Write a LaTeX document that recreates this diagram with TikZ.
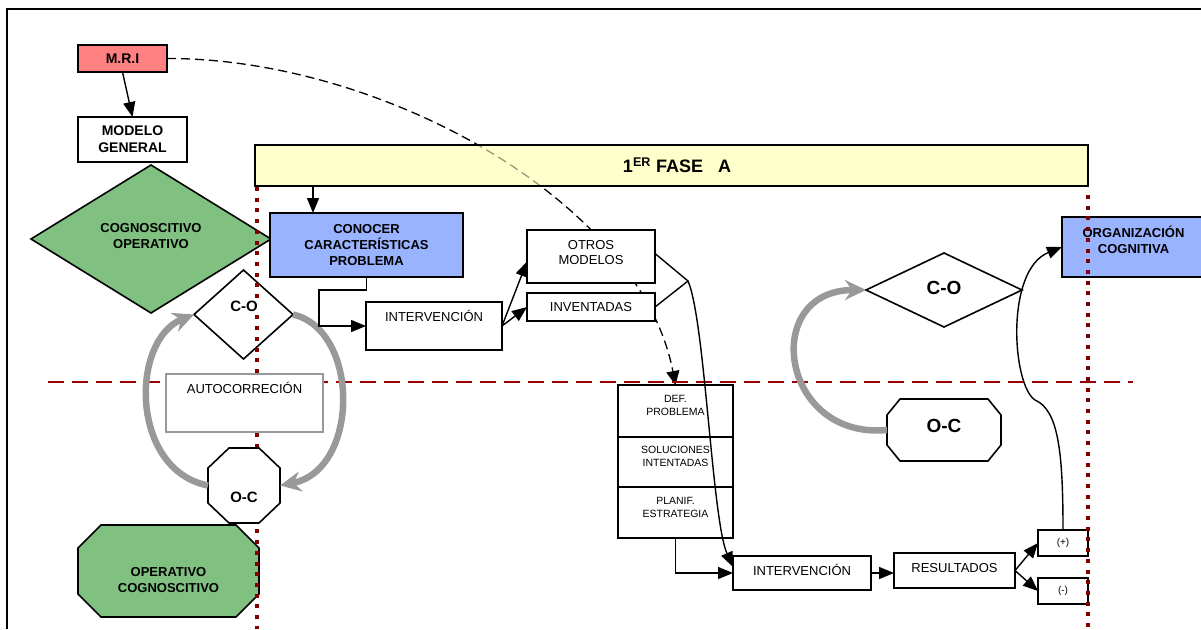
\documentclass[tikz,border=0pt]{standalone}
\usepackage{fontspec}
\setmainfont{Liberation Sans}
\usetikzlibrary{arrows.meta,calc}

\definecolor{mrired}{HTML}{FF8080}
\definecolor{leafgreen}{HTML}{80C080}
\definecolor{skyblue}{HTML}{99B3FF}
\definecolor{paleyellow}{HTML}{FFFFCC}
\definecolor{maroon}{HTML}{800000}
\definecolor{dashred}{HTML}{990000}
\definecolor{loopgray}{HTML}{999999}

% octagon drawn inside the rectangle of a (frameless) node
\newcommand{\octashape}[4]{%
  \path[#4] ($(#1.north west)+(#2,0)$) -- ($(#1.north east)+(-#2,0)$)
    -- ($(#1.north east)+(0,#3)$) -- ($(#1.south east)+(0,-#3)$)
    -- ($(#1.south east)+(-#2,0)$) -- ($(#1.south west)+(#2,0)$)
    -- ($(#1.south west)+(0,-#3)$) -- ($(#1.north west)+(0,#3)$) -- cycle;}
% rhombus through the four side anchors of a node
\newcommand{\rhombusshape}[2]{%
  \path[#2] (#1.west) -- (#1.north) -- (#1.east) -- (#1.south) -- cycle;}

\tikzset{
  sz/.style 2 args={minimum width=#1pt, minimum height=#2pt},
  box/.style={draw=black, line width=1.6pt, fill=white, inner sep=0pt, outer sep=0pt},
  ghost/.style={inner sep=0pt, outer sep=0pt},
  outline/.style={draw=black, line width=1.6pt},
  conn/.style={line width=1.4pt, -{Triangle[length=15pt,width=12pt]}},
  plainline/.style={line width=1.4pt},
  loopline/.style={draw=loopgray, line width=6.5pt, -{Stealth[length=21pt,width=20pt,inset=7pt]}},
  dotline/.style={draw=maroon, line width=4pt, dash pattern=on 4pt off 6.7pt},
  dashline/.style={draw=dashred, line width=2pt, dash pattern=on 16pt off 8pt},
  tb14/.style={font=\fontsize{14}{17}\selectfont\bfseries, align=center, inner sep=0pt},
  tb13/.style={font=\fontsize{13}{16}\selectfont\bfseries, align=center, inner sep=0pt},
  tr13/.style={font=\fontsize{13}{15}\selectfont, align=center, inner sep=0pt},
  tr10/.style={font=\fontsize{10.5}{13}\selectfont, align=center, inner sep=0pt},
  tr9/.style={font=\fontsize{10}{12}\selectfont, align=center, inner sep=0pt},
  tb15/.style={font=\fontsize{15}{18}\selectfont\bfseries, align=center, inner sep=0pt},
  tb19/.style={font=\fontsize{19}{22}\selectfont\bfseries, align=center, inner sep=0pt},
  tb18/.style={font=\fontsize{18}{22}\selectfont\bfseries, align=center, inner sep=0pt},
}

\begin{document}
\begin{tikzpicture}[x=1pt,y=-1pt]
\useasboundingbox (0,0) rectangle (1201,629);

% page frame (top and left edges)
\draw[line width=2pt] (7,629) -- (7,9) -- (1201,9);

% phase banner, background
\node[ghost, fill=paleyellow, sz={833}{41}] (fase) at (671.5,165.5) {};

% top-left boxes
\node[box, fill=mrired, sz={89}{27}, tb14] (mri) at (122.5,58.5) {M.R.I};
\node[box, sz={109}{45}, tb14] (modelo) at (132.5,139.5) {MODELO\\GENERAL};

% problem definition stack
\node[box, sz={115}{52}] (defa) at (675.5,411) {};
\node[box, sz={115}{50}] (defb) at (675.5,462) {};
\node[box, sz={115}{51}] (defc) at (675.5,512.5) {};
\node[tr10] (defa-t) at (675.5,405) {DEF.\\PROBLEMA};
\node[tr10] (defb-t) at (675.5,456.5) {SOLUCIONES\\INTENTADAS};
\node[tr10] (defc-t) at (675.5,507.5) {PLANIF.\\ESTRATEGIA};

% dashed link from M.R.I down to the problem stack
\draw[line width=1.3pt, dash pattern=on 9pt off 5pt, -{Triangle[length=14pt,width=13pt]}]
  (mri.east) .. controls (380,58) and (640,200) .. (defa.north);

% phase banner, tinted cover and outline
\fill[paleyellow, fill opacity=0.6] (fase.north west) rectangle (fase.south east);
\draw[outline] (fase.north west) rectangle (fase.south east);
\node[tb18] (fase-t) at (677,165) {1\textsuperscript{ER} FASE\ \ \ A};

% horizontal divider
\coordinate (hl-a) at (48,382);
\coordinate (hl-b) at (1133,382);
\draw[dashline] (hl-a) -- (hl-b);

% green shapes on the left
\node[ghost, sz={240}{148}] (cogop) at (151,239) {};
\rhombusshape{cogop}{outline, fill=leafgreen}
\node[ghost, sz={181}{92}] (opcog) at (168.5,571) {};
\octashape{opcog}{23}{23}{outline, fill=leafgreen}

% main flow boxes
\node[box, fill=skyblue, sz={193}{64}, tb13] (conocer) at (366.5,245) {CONOCER\\CARACTERÍSTICAS\\PROBLEMA};
\node[box, sz={136}{48}] (interv1) at (434,326) {};
\node[box, sz={128}{53}] (otros) at (591,256.5) {};
\node[box, sz={128}{28}, tr13] (invent) at (591,307) {INVENTADAS};
\node[box, sz={138}{34}] (interv2) at (802,573) {};
\node[box, sz={121}{35}] (result) at (954.5,570.5) {};
\node[box, sz={50}{26}, tr9] (plus) at (1063,543) {(+)};
\node[box, sz={50}{26}, tr9] (minus) at (1063,591) {(-)};
\node[box, fill=skyblue, sz={143}{60}] (org) at (1133.5,247) {};

% right-hand C-O / O-C pair
\node[ghost, sz={156}{74}] (cor) at (944,290) {};
\rhombusshape{cor}{outline, fill=white}
\node[ghost, sz={114}{62}] (ocr) at (944,430) {};
\octashape{ocr}{13}{16}{outline, fill=white}

% left C-O diamond
\node[ghost, sz={99}{89}] (col) at (243.5,314.5) {};
\rhombusshape{col}{outline, fill=white}

% vertical phase boundaries
\coordinate (vl-a) at (257,187);
\coordinate (vl-b) at (257,629);
\coordinate (vr-a) at (1088,195);
\coordinate (vr-b) at (1088,629);
\draw[dotline] (vl-a) -- (vl-b);
\draw[dotline] (vr-a) -- (vr-b);

% self-correction box and left O-C octagon
\node[draw=loopgray, line width=1.5pt, fill=white, inner sep=0pt, sz={157}{58}] (autocorr) at (244.5,403) {};
\node[ghost, sz={72}{75}] (ocl) at (244,485.5) {};
\octashape{ocl}{21}{20}{outline, fill=white}

% labels
\node[tb13] (cogop-t) at (151,236) {COGNOSCITIVO\\OPERATIVO};
\node[tb13] (opcog-t) at (168.5,580.5) {OPERATIVO\\COGNOSCITIVO};
\node[tr13] (interv1-t) at (434,316) {INTERVENCIÓN};
\node[tr13] (otros-t) at (591,252.5) {OTROS\\MODELOS};
\node[tr13] (interv2-t) at (802,570) {INTERVENCIÓN};
\node[tr13] (result-t) at (954.5,568) {RESULTADOS};
\node[tb13] (org-t) at (1133.5,240) {ORGANIZACIÓN\\COGNITIVA};
\node[tb19] (cor-t) at (944,288) {C-O};
\node[tb19] (ocr-t) at (944,426) {O-C};
\node[tb15, fill=white, inner sep=1pt] (col-t) at (244,306) {C-O};
\node[tb15] (ocl-t) at (244,497) {O-C};
\node[tr13] (autocorr-t) at (244.5,388) {AUTOCORRECIÓN};

% gray feedback loops
\draw[loopline] (ocl.west) .. controls (130,470) and (130,340) .. (col.west);
\draw[loopline] (col.east) .. controls (360,330) and (360,470) .. (ocl.east);
\draw[loopline] (ocr.west) .. controls (780,440) and (760,290) .. (cor.west);

% connectors
\draw[conn] (mri.south) -- (modelo.north);
\coordinate (faseout) at (313,186);
\draw[conn] (faseout) -- (faseout |- conocer.north);
\coordinate (elbow) at (319,290);
\draw[conn] (conocer.south) |- (elbow) |- (interv1.west);
\draw[conn] (interv1.east) -- ($(otros.west)+(0,5)$);
\draw[conn] (interv1.east) -- (invent.west);
\coordinate (branch) at (688,281);
\draw[plainline] ($(otros.east)+(0,-3)$) -- (branch) -- (invent.east);
\draw[conn] (branch) .. controls (705,320) and (712,520) .. ($(interv2.west)+(0,-6)$);
\draw[conn] (defc.south) |- (interv2.west);
\draw[conn] (interv2.east) -- (interv2.east -| result.west);
\draw[conn] (result.east) -- (plus.west);
\draw[conn] (result.east) -- (minus.west);
\coordinate (kink) at (1035,400);
\draw[conn] (plus.north) .. controls (1063,450) and (1058,410) .. (kink)
  .. controls (1012,385) and (1005,270) .. (org.west);

% right boundary runs over the cognitive-organisation box
\draw[dotline] (vr-a) -- (1088,277);
\end{tikzpicture}
\end{document}
